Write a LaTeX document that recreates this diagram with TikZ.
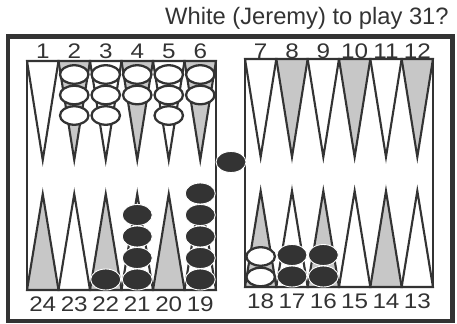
\documentclass[tikz,border=0pt]{standalone}
\usepackage{fontspec}
\setmainfont{Liberation Sans}
\newfontfamily\titlefont{Liberation Sans}
\newfontfamily\numfont[FakeStretch=1.15]{Liberation Sans}
\usetikzlibrary{calc, shapes.geometric}
\definecolor{ink}{gray}{0.2}
\definecolor{dotgray}{gray}{0.78}
\tikzset{
    frame/.style={line width=2.8pt, ink},
    board/.style={line width=1.4pt, ink},
    pt/.style={line width=1.2pt, draw=ink, line join=miter},
    num/.style={font=\numfont\fontsize{12}{14}\selectfont, text=ink, inner sep=0pt},
    heading/.style={font=\titlefont\fontsize{13.5}{15}\selectfont, text=ink, inner sep=0pt},
    man/.style={ellipse, inner sep=0pt, minimum width=0.57cm, minimum height=0.37cm},
    wman/.style={man, draw=ink, line width=1.3pt, fill=white},
    bman/.style={man, draw=white, line width=0.5pt, fill=ink, minimum width=0.6cm, minimum height=0.42cm}
}

\begin{document}
\begin{tikzpicture}[x=0.02cm, y=-0.02cm]
    \useasboundingbox (0,0) rectangle (457,324);
    \node[heading, anchor=base east] (title) at (449,25) {White (Jeremy) to play 31?};
    \draw[frame] (8,36.5) rectangle (452.5,321);

    % upper half: points 1-6 and 7-12
    \foreach \n/\f [count=\k] in {1/white,2/dotgray,3/white,4/dotgray,5/white,6/dotgray} {
        \coordinate (p\n) at ({27+(\k-0.5)*31.5},61);
        \draw[pt, fill=\f] ({27+(\k-1)*31.5},61) -- ({27+\k*31.5},61) -- ({27+(\k-0.5)*31.5},160) -- cycle;
        \node[num] (l\n) at ({27+(\k-0.5)*31.5},51) {\n};
    }
    \foreach \n/\f [count=\k] in {7/white,8/dotgray,9/white,10/dotgray,11/white,12/dotgray} {
        \coordinate (p\n) at ({245+(\k-0.5)*31.33},59);
        \draw[pt, fill=\f] ({245+(\k-1)*31.33},59) -- ({245+\k*31.33},59) -- ({245+(\k-0.5)*31.33},157) -- cycle;
        \node[num] (l\n) at ({245+(\k-0.5)*31.33},51) {\n};
    }

    % lower half: points 24-19 and 18-13
    \foreach \n/\f [count=\k] in {24/dotgray,23/white,22/dotgray,21/white,20/dotgray,19/white} {
        \coordinate (p\n) at ({27+(\k-0.5)*31.5},290);
        \draw[pt, fill=\f] ({27+(\k-1)*31.5},290) -- ({27+\k*31.5},290) -- ({27+(\k-0.5)*31.5},194) -- cycle;
        \node[num] (l\n) at ({27+(\k-0.5)*31.5},304) {\n};
    }
    \foreach \n/\f [count=\k] in {18/dotgray,17/white,16/dotgray,15/white,14/dotgray,13/white} {
        \coordinate (p\n) at ({245+(\k-0.5)*31.33},287);
        \draw[pt, fill=\f] ({245+(\k-1)*31.33},287) -- ({245+\k*31.33},287) -- ({245+(\k-0.5)*31.33},191) -- cycle;
        \node[num] (l\n) at ({245+(\k-0.5)*31.33},301) {\n};
    }

    \draw[board] (27,61) rectangle (216,290);
    \draw[board] (245,59) rectangle (433,287);

    % white men
    \foreach \n/\m in {2/3,3/3,4/2,5/3,6/2}
        \foreach \j in {1,...,\m}
            \node[wman] (w\n-\j) at ($(p\n)+(0,{13.5+(\j-1)*20.5})$) {};
    \foreach \j in {1,2}
        \node[wman] (w18-\j) at ($(p18)+(0,{-10-(\j-1)*20.5})$) {};

    % black men
    \foreach \n/\m in {22/1,21/4,19/5,17/2,16/2}
        \foreach \j in {1,...,\m}
            \node[bman] (b\n-\j) at ($(p\n)+(0,{-10.5-(\j-1)*21.5})$) {};
    \node[bman] (bar) at (231,162) {};
\end{tikzpicture}
\end{document}
